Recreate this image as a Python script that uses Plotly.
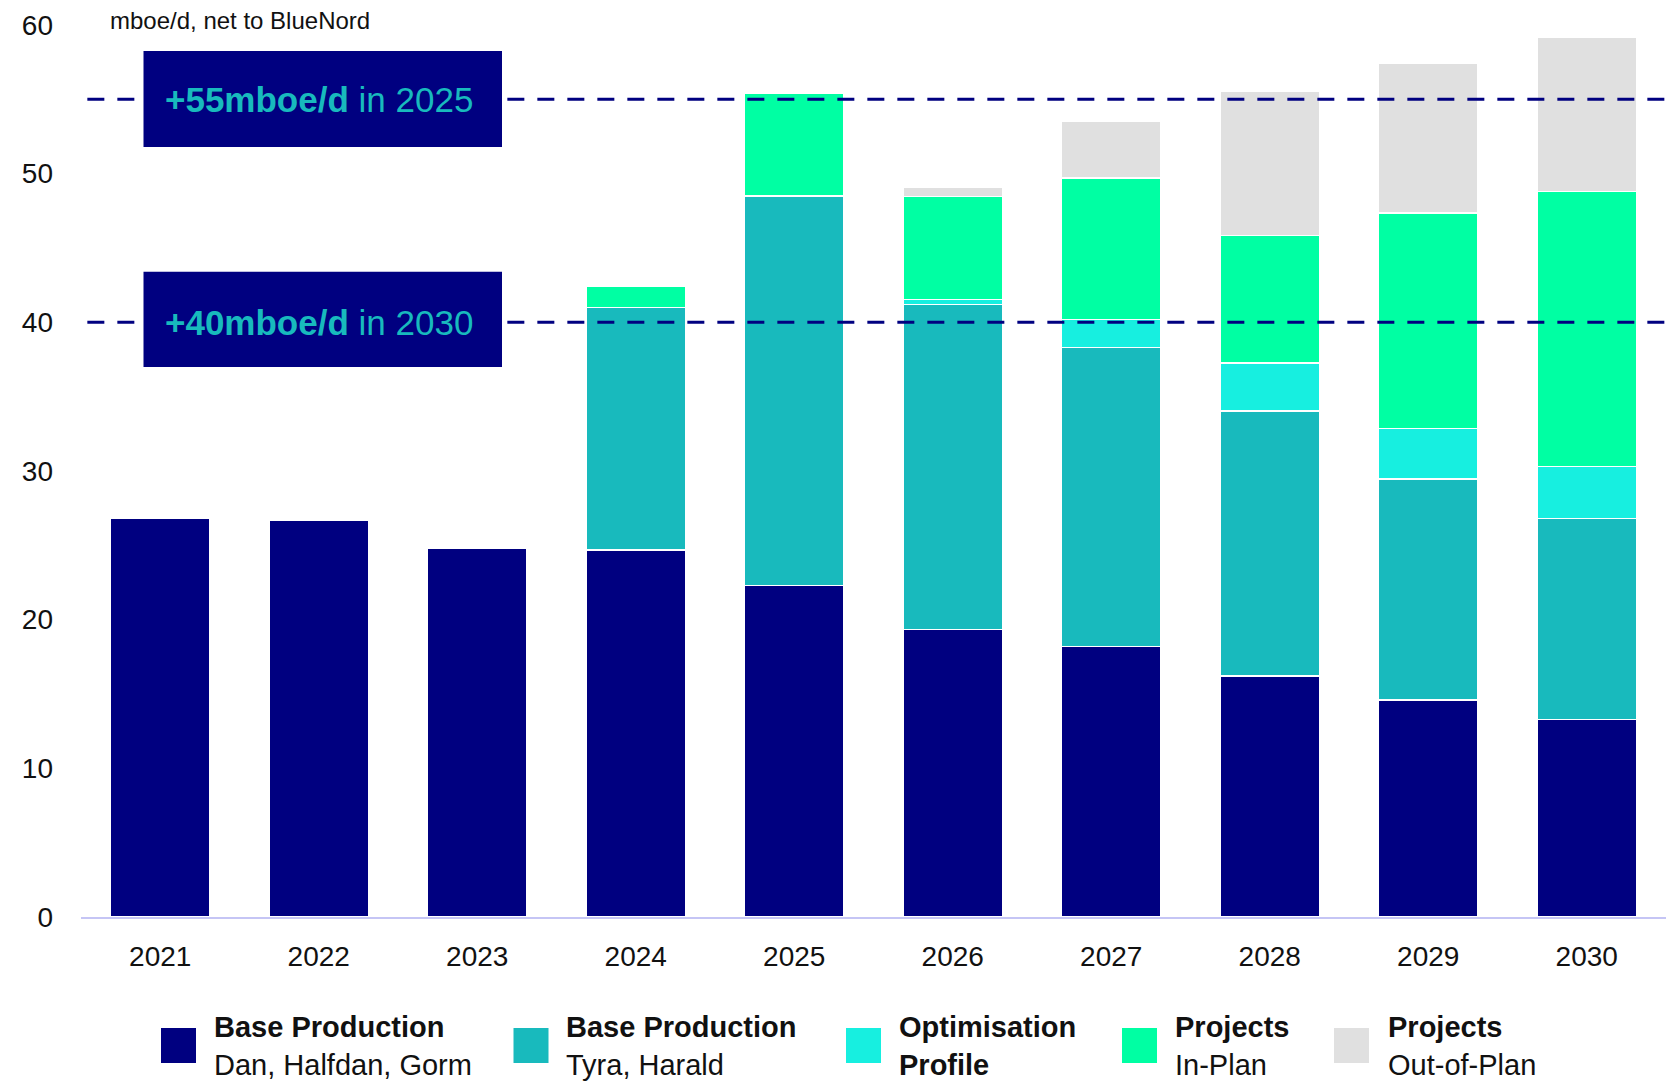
import plotly.graph_objects as go

# Production outlook, mboe/d net to BlueNord
years = ["2021", "2022", "2023", "2024", "2025", "2026", "2027", "2028", "2029", "2030"]
base_dhg = [26.8, 26.7, 24.8, 24.7, 22.3, 19.35, 18.2, 16.2, 14.6, 13.3]
base_tyra = [None, None, None, 16.3, 26.2, 21.85, 20.1, 17.85, 14.85, 13.5]
optimisation = [None, None, None, None, None, 0.35, 1.9, 3.2, 3.4, 3.5]
in_plan = [None, None, None, 1.4, 6.9, 6.9, 9.5, 8.6, 14.5, 18.5]
out_of_plan = [None, None, None, None, None, 0.65, 3.8, 9.7, 10.1, 10.4]

target_values = [55, 40]
target_bold = ["+55mboe/d", "+40mboe/d"]
target_years = ["in 2025", "in 2030"]

series_titles = ["Base Production", "Base Production", "Optimisation", "Projects", "Projects"]
series_subtitles = ["Dan, Halfdan, Gorm", "Tyra, Harald", "Profile", "In-Plan", "Out-of-Plan"]
series_sub_bold = [False, False, True, False, False]

NAVY = "#000080"
TEAL = "#18BABD"
CYAN = "#17EFE0"
GREEN = "#00FFA3"
GREY = "#E0E0E0"
colors = [NAVY, TEAL, CYAN, GREEN, GREY]
FONT = "Liberation Sans, Arial, sans-serif"
INK = "#111111"

W, H = 1667, 1081
ML, MR, MT, MB = 81, 1, 25, 164
PW = W - ML - MR
PH = H - MT - MB

# vertical extent of each label box around its target line (below, above)
box_pad = [(3.2, 3.25), (3.0, 3.4)]


def px_x(xp):
    return (xp - ML) / PW


def px_y(yp):
    return (H - MB - yp) / PH


fig = go.Figure()
for vals, col in zip([base_dhg, base_tyra, optimisation, in_plan, out_of_plan], colors):
    fig.add_trace(go.Bar(
        x=years, y=vals, marker=dict(color=col, line=dict(color="white", width=1.5)),
        showlegend=False, hoverinfo="skip",
    ))

shapes = []
annotations = []

# Target lines with labelled boxes
for v in target_values:
    shapes.append(dict(type="line", xref="paper", yref="y", x0=0.004, x1=1, y0=v, y1=v,
                       line=dict(color=NAVY, width=3, dash="17px,13px"), layer="above"))
for v, b, yr, (lo, hi) in zip(target_values, target_bold, target_years, box_pad):
    shapes.append(dict(type="rect", xref="paper", yref="y", x0=px_x(143.5), x1=px_x(502),
                       y0=v - lo, y1=v + hi, fillcolor=NAVY, line=dict(width=0), layer="above"))
    annotations.append(dict(xref="paper", yref="y", x=px_x(319), y=v, xanchor="center",
                            yanchor="middle", showarrow=False,
                            text=f"<b>{b}</b> {yr}",
                            font=dict(family=FONT, size=35, color=TEAL)))

# Unit caption
annotations.append(dict(xref="paper", yref="paper", x=px_x(108), y=px_y(21), xanchor="left",
                        yanchor="middle", showarrow=False, text="mboe/d, net to BlueNord",
                        font=dict(family=FONT, size=24, color=INK)))

# Custom legend with large swatches
swatch_left = [161, 513.5, 846, 1122, 1334]
text_left = [212, 564, 897, 1173, 1386]
for i in range(5):
    shapes.append(dict(type="rect", xref="paper", yref="paper",
                       x0=px_x(swatch_left[i]), x1=px_x(swatch_left[i] + 35),
                       y0=px_y(1063), y1=px_y(1028), fillcolor=colors[i], line=dict(width=0)))
    sub = f"<b>{series_subtitles[i]}</b>" if series_sub_bold[i] else series_subtitles[i]
    annotations.append(dict(xref="paper", yref="paper", x=px_x(text_left[i]), y=px_y(1046),
                            xanchor="left", yanchor="middle", align="left", showarrow=False,
                            text=f"<b>{series_titles[i]}</b><br>{sub}",
                            font=dict(family=FONT, size=29, color=INK)))

fig.update_layout(
    width=W, height=H,
    margin=dict(l=ML, r=MR, t=MT, b=MB),
    barmode="stack", bargap=0.37,
    plot_bgcolor="white", paper_bgcolor="white",
    shapes=shapes, annotations=annotations,
    xaxis=dict(showgrid=False, showline=True, linecolor="#C5C5F5", linewidth=2,
               ticks="", tickfont=dict(family=FONT, size=28, color=INK),
               ticklabelstandoff=13, zeroline=False),
    yaxis=dict(range=[0, 60], tickvals=[0, 10, 20, 30, 40, 50, 60], showgrid=False,
               showline=False, zeroline=False, ticks="",
               tickfont=dict(family=FONT, size=28, color=INK), ticklabelstandoff=27),
)

fig.write_html("out.html")
